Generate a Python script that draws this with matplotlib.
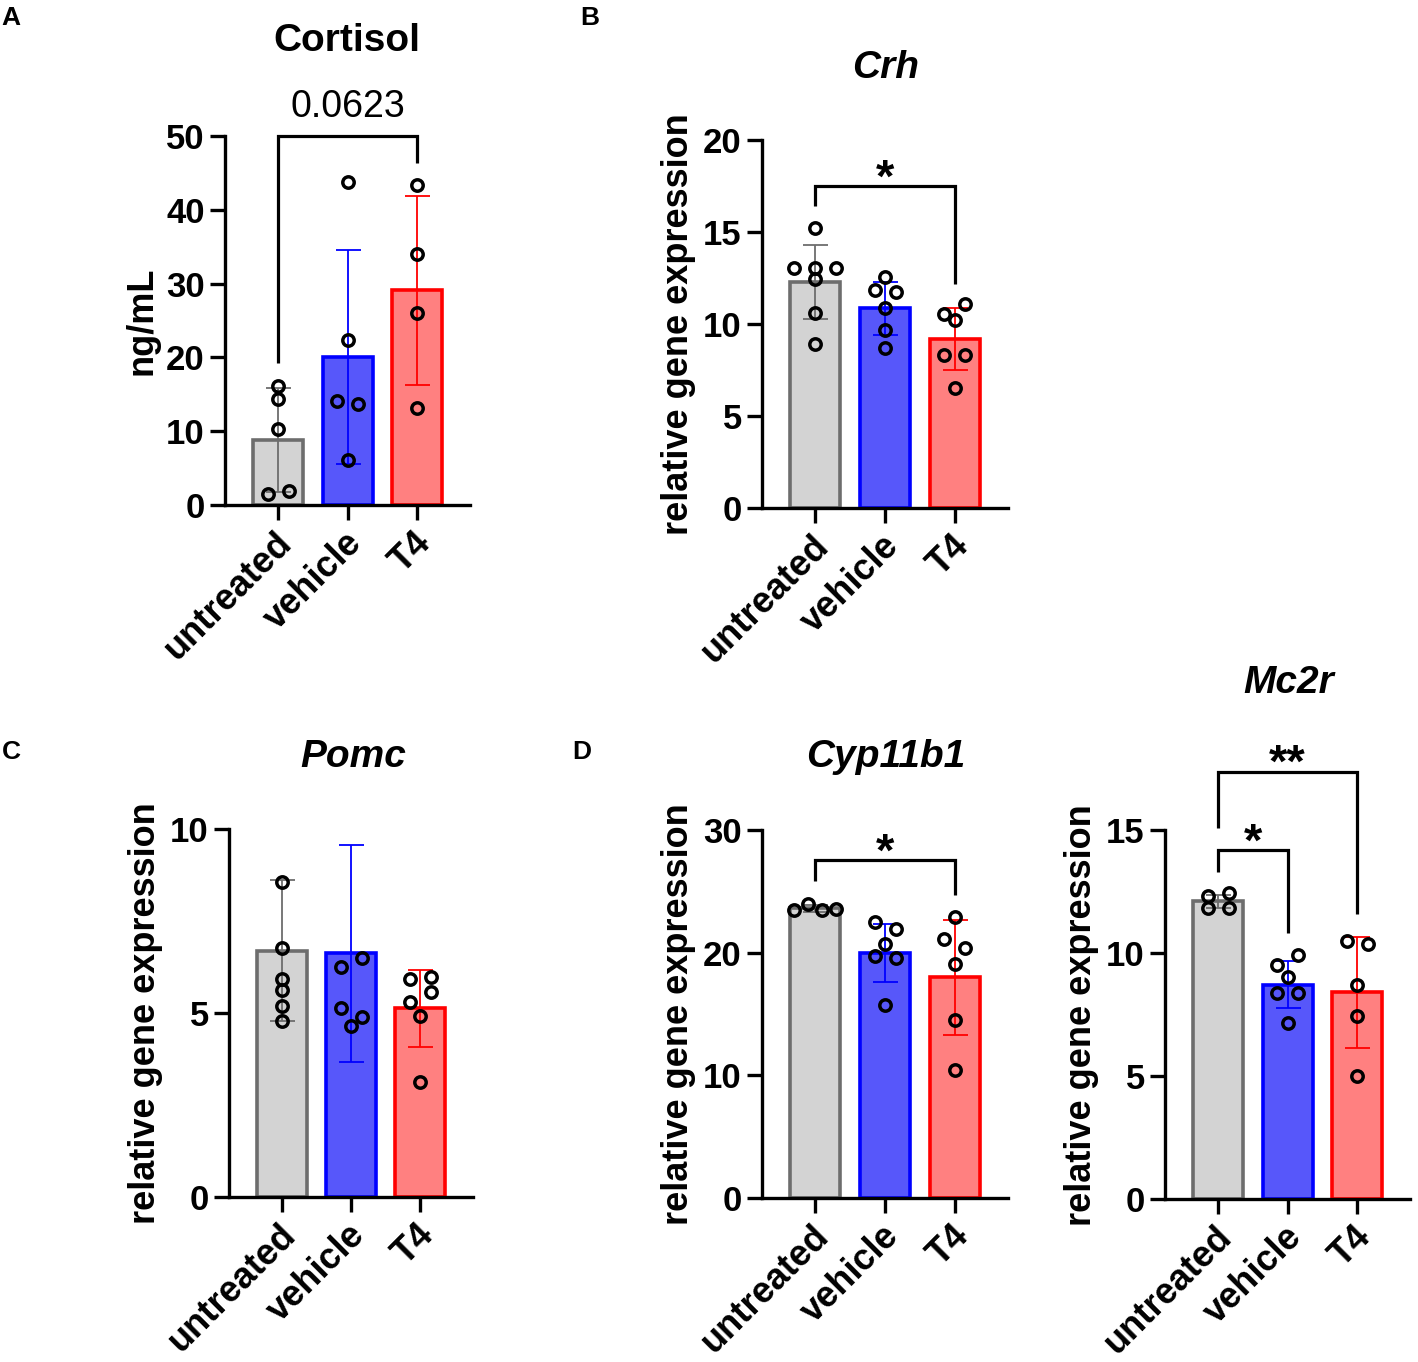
import matplotlib
matplotlib.use('Agg')
import matplotlib.pyplot as plt
import matplotlib.transforms as mtrans
import numpy as np

plt.rcParams['font.family'] = ['Liberation Sans', 'DejaVu Sans']

W, H = 1418, 1362
groups = ['untreated', 'vehicle', 'T4']

# ---------------- data ----------------
# A: Cortisol (ng/mL)
cort_mean = [8.8, 20.0, 29.1]
cort_sd = [7.0, 14.5, 12.8]
cort_pts = [[16.1, 14.3, 10.3, 1.5, 1.9],
            [43.8, 22.3, 14.1, 13.7, 6.1],
            [43.4, 34.0, 26.0, 13.2]]

# B: Crh
crh_mean = [12.3, 10.85, 9.17]
crh_sd = [2.0, 1.45, 1.68]
crh_pts = [[15.2, 13.06, 13.06, 13.06, 12.45, 10.6, 8.9],
           [12.57, 11.85, 11.76, 10.9, 9.66, 8.72],
           [10.57, 11.07, 10.2, 8.32, 8.32, 6.55]]

# C: Pomc
pomc_mean = [6.7, 6.62, 5.13]
pomc_sd = [1.91, 2.95, 1.04]
pomc_pts = [[8.56, 6.77, 5.92, 5.62, 5.19, 4.80],
            [6.24, 6.5, 5.14, 4.89, 4.65],
            [5.92, 5.99, 5.29, 5.58, 4.93, 3.14]]

# D: Cyp11b1
cyp_mean = [23.6, 19.95, 18.0]
cyp_sd = [0.3, 2.37, 4.69]
cyp_pts = [[23.47, 23.96, 23.47, 23.55],
           [22.46, 21.89, 20.69, 19.74, 19.58, 15.72],
           [22.92, 21.08, 20.39, 19.04, 14.49, 10.42]]

# D: Mc2r
mc2r_mean = [12.1, 8.72, 8.4]
mc2r_sd = [0.25, 0.97, 2.27]
mc2r_pts = [[12.33, 12.43, 11.82, 11.82],
            [9.52, 9.91, 9.04, 8.37, 8.37, 7.15],
            [10.49, 10.36, 8.70, 7.46, 5.01]]

# comparisons: (group i, group j, bracket top, left drop end, right drop end, label)
cort_cmp = [(0, 2, 50.0, 19.3, 46.3, '0.0623')]
crh_cmp = [(0, 2, 17.5, 16.4, 12.2, '*')]
pomc_cmp = []
cyp_cmp = [(0, 2, 27.55, 25.8, 24.7, '*')]
mc2r_cmp = [(0, 1, 14.19, 13.3, 10.8, '*'), (0, 2, 17.37, 15.07, 11.58, '**')]

# ---------------- styles ----------------
fills = ['#d3d3d3', '#5757fa', '#ff8080']
edges = ['#6d6d6d', '#0000ff', '#ff0000']

fig = plt.figure(figsize=(W / 100, H / 100), dpi=100)


def box(l, r, t, b):
    return [l / W, 1 - b / H, (r - l) / W, (b - t) / H]


def swarm_x(ax, i, vals, thresh=10.7, max_step=21.0, max_span=42.0):
    vals = np.asarray(vals, float)
    ypx = ax.transData.transform(np.column_stack([np.zeros(len(vals)), vals]))[:, 1]
    pxx = ax.transData.transform((1, 0))[0] - ax.transData.transform((0, 0))[0]
    order = sorted(range(len(vals)), key=lambda k: (-vals[k], k))
    rows = []
    for k in order:
        if rows and abs(ypx[rows[-1][0]] - ypx[k]) < thresh:
            rows[-1].append(k)
        else:
            rows.append([k])
    off = np.zeros(len(vals))
    for row in rows:
        row = sorted(row)
        n = len(row)
        if n > 1:
            step = min(max_step, max_span / (n - 1))
            for m, k in enumerate(row):
                off[k] = (m - (n - 1) / 2) * step
    return i + off / pxx


def panel(rect, means, sds, pts, ylim, yticks, ylabel, cmps):
    ax = fig.add_axes(rect)
    x = np.arange(len(groups))
    ax.set_xlim(-0.763, 2.762)
    ax.set_ylim(*ylim)
    ax.bar(x, means, width=0.72, color=fills, edgecolor=edges, linewidth=2.6, zorder=2)
    for i in range(len(groups)):
        ax.errorbar(x[i], means[i], yerr=sds[i], fmt='none', ecolor=edges[i],
                    elinewidth=1.3, capsize=9, capthick=1.3, zorder=3)
    for i in range(len(groups)):
        xs = swarm_x(ax, i, pts[i])
        ax.plot(xs, pts[i], 'o', ms=8.2, mfc='none', mec='black', mew=2.5,
                zorder=4, clip_on=False)
    for (a, b, top, ya, yb, lab) in cmps:
        ax.plot([a, a, b, b], [ya, top, top, yb], color='black', lw=2.3,
                clip_on=False, zorder=5, solid_capstyle='butt', solid_joinstyle='miter')
        if lab.startswith('*'):
            ax.annotate(lab, xy=((a + b) / 2, top), xytext=(0, -4), textcoords='offset points',
                        ha='center', va='baseline', fontsize=34, fontweight='bold',
                        annotation_clip=False)
        else:
            ax.annotate(lab, xy=((a + b) / 2, top), xytext=(0, 13.5), textcoords='offset points',
                        ha='center', va='baseline', fontsize=27, annotation_clip=False)
    for s in ['top', 'right']:
        ax.spines[s].set_visible(False)
    for s in ['left', 'bottom']:
        ax.spines[s].set_linewidth(2.4)
    ax.set_yticks(yticks)
    ax.set_xticks(x)
    ax.tick_params(axis='both', which='major', length=10.5, width=2.4, direction='out',
                   labelsize=25, pad=4)
    for lab in ax.get_yticklabels():
        lab.set_fontweight('bold')
    ax.set_xticklabels(groups, rotation=45, ha='right', va='top',
                       rotation_mode='anchor', fontweight='bold', fontsize=26)
    off = mtrans.ScaledTranslation(-2.5 / 72, 0 / 72, fig.dpi_scale_trans)
    for lab in ax.get_xticklabels():
        lab.set_transform(lab.get_transform() + off)
    ax.set_ylabel(ylabel, fontsize=26, fontweight='bold', labelpad=5)
    return ax


axA = panel(box(225, 470, 136, 505), cort_mean, cort_sd, cort_pts, (0, 50),
            [0, 10, 20, 30, 40, 50], 'ng/mL', cort_cmp)
axB = panel(box(762, 1008, 140, 508.3), crh_mean, crh_sd, crh_pts, (0, 20),
            [0, 5, 10, 15, 20], 'relative gene expression', crh_cmp)
axC = panel(box(229, 473, 829, 1197.3), pomc_mean, pomc_sd, pomc_pts, (0, 10),
            [0, 5, 10], 'relative gene expression', pomc_cmp)
axD1 = panel(box(762, 1008, 830, 1197.7), cyp_mean, cyp_sd, cyp_pts, (0, 30),
             [0, 10, 20, 30], 'relative gene expression', cyp_cmp)
axD2 = panel(box(1165, 1410, 830, 1199.3), mc2r_mean, mc2r_sd, mc2r_pts, (0, 15),
             [0, 5, 10, 15], 'relative gene expression', mc2r_cmp)

# titles
titles = [('Cortisol', 347, 51, 'normal'), ('Crh', 886, 78, 'italic'),
          ('Pomc', 353, 767, 'italic'), ('Cyp11b1', 886, 767, 'italic'),
          ('Mc2r', 1289, 693, 'italic')]
for t, xp, yb, st in titles:
    fig.text(xp / W, 1 - yb / H, t, ha='center', va='baseline', fontsize=28,
             fontweight='bold', fontstyle=st)

# panel letters
for t, xp, yb in [('A', 1, 25), ('B', 580, 25), ('C', 2, 759), ('D', 572, 759)]:
    fig.text(xp / W, 1 - yb / H, t, ha='left', va='baseline', fontsize=19, fontweight='bold')

fig.savefig('out.png', dpi=100)
